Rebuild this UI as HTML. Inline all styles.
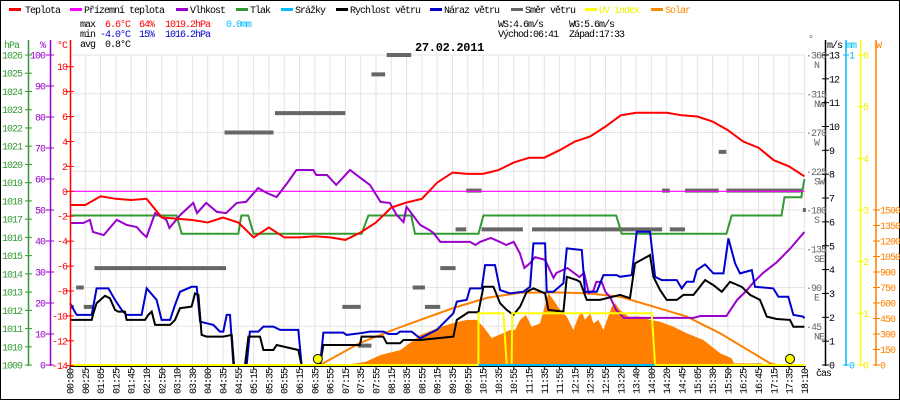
<!DOCTYPE html>
<html><head><meta charset="utf-8"><style>
html,body{margin:0;padding:0;background:#fff}
svg{display:block;font-family:"Liberation Mono",monospace}
text{font-size:10px;letter-spacing:-1px}
</style></head><body>
<svg id="c" width="900" height="400" viewBox="0 0 900 400" xmlns="http://www.w3.org/2000/svg">
<rect x="0.5" y="0.5" width="899" height="399" fill="#fff" stroke="#000"/>
<g>
<rect x="9" y="8" width="12" height="3" fill="#f00"/><text x="25" y="13" fill="#000">Teplota</text>
<rect x="70" y="8" width="12" height="3" fill="#f0f"/><text x="84" y="13">Přízemní teplota</text>
<rect x="176" y="8" width="12" height="3" fill="#90c"/><text x="190" y="13">Vlhkost</text>
<rect x="236" y="8" width="12" height="3" fill="#393"/><text x="250" y="13">Tlak</text>
<rect x="281" y="8" width="12" height="3" fill="#0bf"/><text x="295" y="13">Srážky</text>
<rect x="336" y="8" width="12" height="3" fill="#000"/><text x="350" y="13">Rychlost větru</text>
<rect x="430" y="8" width="12" height="3" fill="#00c"/><text x="444" y="13">Náraz větru</text>
<rect x="511" y="8" width="12" height="3" fill="#666"/><text x="525" y="13">Směr větru</text>
<rect x="585" y="8" width="12" height="3" fill="#ff0"/><text x="599" y="13" fill="#ee0">UV index</text>
<rect x="651" y="8" width="12" height="3" fill="#f80"/><text x="665" y="13" fill="#f80">Solar</text>
</g>
<g>
<text x="80" y="27">max</text><text x="105" y="27" fill="#f00">6.6°C</text><text x="139" y="27" fill="#f00">64%</text><text x="165" y="27" fill="#f00">1019.2hPa</text><text x="226" y="27" fill="#0bf">0.0mm</text>
<text x="80" y="37">min</text><text x="100" y="37" fill="#00c">-4.0°C</text><text x="139" y="37" fill="#00c">15%</text><text x="165" y="37" fill="#00c">1016.2hPa</text>
<text x="80" y="47">avg</text><text x="105" y="47">0.8°C</text>
<text x="498" y="27">WS:4.6m/s</text><text x="569" y="27">WG:5.6m/s</text>
<text x="498" y="37">Východ:06:41</text><text x="569" y="37">Západ:17:33</text>
</g>
<text x="415" y="51" style="font-size:12px;font-weight:bold;letter-spacing:-0.3px">27.02.2011</text>
<g id="grid"></g>
<g id="series"></g>
<g id="axes"></g>
</svg>
<script>
// ---- data ----
const timeLabels=["00:00","00:25","01:05","01:25","01:45","02:10","02:50","03:10","03:30","04:00","04:35","04:55","05:15","05:35","05:55","06:15","06:35","06:55","07:15","07:35","07:55","08:15","08:35","08:55","09:15","09:35","09:55","10:15","10:35","10:55","11:15","11:35","11:55","12:15","12:35","12:55","13:20","13:40","14:00","14:20","14:45","15:05","15:30","15:50","16:25","16:45","17:15","17:35","18:10"];
const tempVals=[-1.1,-1.1,-0.4,-0.6,-0.7,-0.6,-2.1,-2.2,-2.3,-2.5,-2.1,-2.5,-3.7,-2.9,-3.7,-3.7,-3.6,-3.7,-3.9,-3.3,-2.5,-1.3,-0.9,-0.6,0.7,1.5,1.4,1.4,1.7,2.3,2.7,2.7,3.3,4.0,4.4,5.2,6.1,6.3,6.3,6.3,6.1,6.0,5.6,4.9,4.0,3.5,2.5,2.0,1.2];
const feelT=[0,48];
const feelVals=[0,0];
const humT=[0,0.87,1.3,1.5,2.2,3.05,3.7,4.36,4.7,5.0,5.56,6.3,6.5,7.2,8.06,8.3,8.9,9.6,10.2,10.9,11.5,12.3,12.85,13.5,14.2,14.8,15.9,16.1,16.8,17.4,18.3,19.0,19.6,20.3,20.9,21.35,21.8,22.0,22.4,22.88,23.5,23.75,24.2,24.6,26.15,26.5,26.8,27.5,28.1,28.5,29.0,29.4,29.7,30.07,30.4,31.05,31.6,31.8,32.5,33.3,33.6,33.9,34.2,34.4,34.75,35.0,35.3,35.7,36.2,38.1,40.75,41.2,42.9,43.6,44.2,44.7,45.3,46.2,47.1,48];
const humVals=[45.8,45.8,46.8,42.9,41.9,46.8,45.2,44.5,42.6,41.3,49,46.8,44.2,48.4,52.3,49,52.3,49.4,49,52.3,52.6,57.1,55.5,54.2,58.7,62.9,62.9,61.3,61.3,58.1,62.9,60.3,58.1,52.6,52.3,48.4,46.1,51,48.4,45.2,43.5,42.6,39.7,39.7,39.7,38.7,39.7,41,39.7,38.7,39.7,36.1,31.3,32.9,34.8,33.9,28.1,29.7,31.3,28.4,29.7,23.2,23.9,26.8,26.8,23.5,21.9,17.7,15.2,15.2,15.2,15.8,15.8,21,23.9,26.8,29.7,33.2,37.7,42.9];
const presT=[0,6.97,7.3,11.0,11.2,11.65,12.0,19.06,19.5,22.3,22.55,26.7,27.02,35.7,36.06,42.9,43.25,46.5,46.7,47.8,48];
const presVals=[1017.2,1017.2,1016.2,1016.2,1017.2,1017.2,1016.2,1016.2,1017.2,1017.2,1016.2,1016.2,1017.2,1017.2,1016.2,1016.2,1017.2,1017.2,1018.2,1018.2,1019.2];
const windT=[0,1.42,1.53,1.74,2.29,2.61,2.94,3.16,3.59,3.7,4.9,5.12,5.34,5.56,6.54,6.86,7.19,7.95,8.17,8.39,8.6,8.93,10.02,10.57,10.72,11.44,11.66,12.42,12.64,13.29,13.51,14.92,15.14,16.34,16.56,18.95,19.06,20.48,20.7,21.57,21.79,22.88,25.06,25.28,26.04,26.69,27.02,27.67,28.11,28.54,28.98,29.42,29.85,30.29,31.05,31.27,32.25,32.47,33.12,33.34,33.77,34.64,35.08,35.95,36.6,36.93,37.91,38.13,38.57,39.0,39.66,40.09,40.75,41.51,42.05,42.6,43.14,43.9,44.45,45.1,45.54,46.19,47.06,47.28,48];
const windVals=[1.89,1.89,2.17,2.59,2.9,2.8,2.31,2.24,2.24,1.89,1.89,2.1,2.24,1.68,1.68,1.89,2.38,2.45,3.0,2.94,1.26,1.19,1.19,1.26,0,0,1.19,1.19,0.63,0.63,0.84,0.63,0,0,0.84,0.84,1.19,1.19,0.91,0.91,1.05,1.05,1.19,1.89,2.21,2.21,3.28,3.28,2.59,2.31,2.1,2.45,3.07,3.21,3.0,2.31,2.24,3.7,3.56,3.49,2.73,2.73,2.8,2.94,2.8,4.26,4.61,3.7,3.14,2.73,2.73,2.94,2.94,3.56,3.35,3.07,3.49,3.28,2.94,2.73,2.03,1.93,1.89,1.6,1.6];
const gustT=[0,0.44,1.42,1.74,2.51,2.94,3.38,3.7,4.68,5.01,5.66,5.99,6.54,6.86,7.19,7.95,8.28,8.5,8.93,9.37,9.8,10.02,10.24,10.46,10.68,11.55,11.76,12.31,12.64,13.29,13.73,14.92,15.14,16.34,16.56,17.86,18.08,18.95,19.61,20.48,20.81,21.35,21.57,22.33,22.88,23.97,25.06,25.28,25.93,26.15,26.91,27.13,27.78,28.11,28.76,29.63,30.07,30.29,31.05,31.16,31.6,32.25,32.47,33.45,33.66,34.43,34.86,35.73,35.95,36.71,37.04,37.91,38.24,38.68,39.66,39.98,40.31,40.75,40.96,41.51,42.05,42.71,43.03,43.47,43.79,44.56,44.77,45.97,46.3,46.95,47.28,47.93,48];
const gustVals=[2.59,2.1,2.1,3.21,3.21,2.73,2.31,2.1,2.1,3.21,2.73,1.89,1.89,2.52,3.07,3.28,3.28,1.82,1.75,1.68,1.4,1.4,2.1,2.1,0,0,1.4,1.4,1.61,1.61,1.47,1.47,0,0,1.36,1.36,1.26,1.33,1.4,1.4,1.3,1.3,1.4,1.4,1.12,1.47,2.17,2.66,2.73,3.21,3.21,4.19,4.19,3.14,3.0,3.07,3.28,5.1,5.1,3.07,3.07,3.43,4.89,4.82,3.07,3.07,3.77,3.77,3.7,3.77,5.59,5.59,3.7,3.56,3.56,3.21,3.49,3.49,3.98,4.22,3.84,3.84,5.31,4.26,3.84,3.98,3.28,3.21,2.86,2.86,2.1,2.03,1.96];
const dirStart=[0,0.4,0.9,1.6,10.1,13.4,17.8,18.8,19.7,20.7,22.4,23.2,24.2,25.2,25.9,26.9,30.2,38.7,39.2,40.2,42.4,42.9,47.9];
const dirEnd=[0.25,0.9,1.5,10.2,13.3,18.0,19.0,19.7,20.6,22.3,23.2,24.2,25.2,25.9,26.9,29.6,38.7,39.2,40.2,42.4,42.9,47.9,48.1];
const dirDeg=[67.5,90,67.5,112.5,270,292.5,67.5,22.5,337.5,360,90,67.5,112.5,157.5,202.5,157.5,157.5,202.5,157.5,202.5,247.5,202.5,180];
const solarT=[18.3,18.4,19.3,20.3,21.6,22.9,24.2,25.06,25.93,26.58,27.02,27.56,28.33,28.76,29.09,29.42,29.8,30.17,30.72,31.27,31.6,32.03,32.47,32.9,33.23,33.45,33.66,34.0,34.21,34.53,34.86,35.41,35.63,35.95,36.5,37.26,37.91,38.57,39.44,40.31,41.4,42.49,43.25,43.4,45.2,45.5];
const solarVals=[0,10,29,97,145,290,368,406,436,436,368,261,310,339,339,436,484,371,403,694,629,532,468,339,468,516,436,500,403,436,339,565,597,532,468,468,436,419,371,307,242,113,65,15,15,0];
const solarMaxT=[16.34,18.95,21.1,22.88,25.06,27.24,29.42,31.6,33.77,35.95,38.13,40.31,42.49,44.67,45.76,46.2];
const solarMaxVals=[0,213,339,436,552,649,700,703,694,661,565,468,307,113,16,0];
const uvT=[0,26.69,26.7,28.33,28.54,28.87,28.9,38.02,38.24,48];
const uvVals=[0,0,1.0,1.0,0,0,1.0,1.0,0,0];
const rainT=[26.7,38.2];
const rainVals=[0,0];
const sunEvents=[16.2,47.06];
// ---- scales ----
const X=i=>70+i*15.3;
const yT=t=>191.3-t*12.46;
const yH=h=>365-h*3.1;
const yP=p=>55+(1026-p)*18.24;
const yV=v=>365-v*23.85;
const yD=d=>365-d*310/360;
const yW=w=>365-w*310/3000;
const yU=u=>365-u*310/6;
const yR=r=>365-r*310;
const NS="http://www.w3.org/2000/svg";
function mk(tag,attrs,parent){const e=document.createElementNS(NS,tag);for(const k in attrs)e.setAttribute(k,attrs[k]);parent.appendChild(e);return e;}
const grid=document.getElementById('grid'),ser=document.getElementById('series'),ax=document.getElementById('axes');
// grid
for(let i=0;i<timeLabels.length;i++){
  const l=mk('line',{x1:X(i),x2:X(i),y1:55,y2:365,stroke:'#e6e2e2','stroke-width':1},grid);
  
  
}
for(let k=0;k<=7;k++){
  const l=mk('line',{x1:70,x2:805,y1:55+k*38.75,y2:55+k*38.75,stroke:'#e6e2e2','stroke-width':1},grid);
  
  
}
function pts(ts,vs,fy){return ts.map((t,i)=>X(t).toFixed(1)+','+fy(vs[i]).toFixed(1)).join(' ');}
// solar fill
const sf=mk('polygon',{points:X(solarT[0])+',365 '+pts(solarT,solarVals,yW)+' '+X(solarT[solarT.length-1])+',365',fill:'#ff8000'},ser);


const sm=mk('polyline',{points:pts(solarMaxT,solarMaxVals,yW),fill:'none',stroke:'#ff8000','stroke-width':2},ser);


// direction
for(let i=0;i<dirDeg.length;i++){
  const r=mk('rect',{x:X(dirStart[i]),y:yD(dirDeg[i])-2,width:Math.max(3,X(dirEnd[i])-X(dirStart[i])),height:4,fill:'#666'},ser);
  
  
}
const pr=mk('polyline',{points:pts(presT,presVals,yP),fill:'none',stroke:'#339933','stroke-width':2},ser);


const fl=mk('polyline',{points:pts(feelT,feelVals,yT),fill:'none',stroke:'#f0f','stroke-width':1.2},ser);


const hm=mk('polyline',{points:pts(humT,humVals,yH),fill:'none',stroke:'#9900cc','stroke-width':2},ser);


const tp=mk('polyline',{points:pts(tempVals.map((v,i)=>i),tempVals,yT),fill:'none',stroke:'#f00','stroke-width':2},ser);


const gu=mk('polyline',{points:pts(gustT,gustVals,yV),fill:'none',stroke:'#0000cc','stroke-width':2},ser);


const ws=mk('polyline',{points:pts(windT,windVals,yV),fill:'none',stroke:'#000','stroke-width':2},ser);


const uv=mk('polyline',{points:pts(uvT,uvVals,yU),fill:'none',stroke:'#ff0','stroke-width':2},ser);


const rn=mk('polyline',{points:pts(rainT,rainVals,yR),fill:'none',stroke:'#00bbff','stroke-width':2},ser);


for(const s of sunEvents){
  const c=mk('circle',{cx:X(s),cy:359,r:4.5,fill:'#ff0',stroke:'#000','stroke-width':1},ser);
  
  
}
// x axis
const xa=mk('line',{x1:70,x2:806,y1:366.5,y2:366.5,stroke:'#000','stroke-width':1},ax);


timeLabels.forEach((lab,i)=>{
  mk('line',{x1:X(i),x2:X(i),y1:366,y2:369,stroke:'#000'},ax);
  const t=mk('text',{x:0,y:0,transform:`translate(${X(i)+3.5},369) rotate(-90)`,'text-anchor':'end'},ax);
  t.textContent=lab;
  
  
});
const cas=mk('text',{x:816,y:376},ax);cas.textContent='čas';


function vaxis(x,col,name){const l=mk('line',{x1:x,x2:x,y1:40,y2:366,stroke:col,'stroke-width':1.5},ax);}
vaxis(28.5,'#339933','pressure-axis');vaxis(50.5,'#9900cc','humidity-axis');vaxis(70.5,'#f00','temperature-axis');
vaxis(825.5,'#000','wind-speed-axis');vaxis(846,'#00bbff','precip-axis');vaxis(860.5,'#ff0','uv-axis');vaxis(876,'#ff8000','solar-axis');
function lab(x,y,s,col,anchor,name){const t=mk('text',{x:x,y:y,fill:col,'text-anchor':anchor||'start'},ax);t.textContent=s;return t;}
lab(4,48,'hPa','#339933','start','pressure-axis-title');lab(40,48,'%','#9900cc','start','humidity-axis-title');lab(57,48,'°C','#f00','start','temperature-axis-title');
lab(808,42,'°','#666','start','direction-axis-title');lab(827,48,'m/s','#000','start','wind-axis-title');lab(846,48,'mm','#00bbff','start','precip-axis-title');lab(876,48,'W','#ff8000','start','solar-axis-title');
for(let p=1009;p<=1026;p++){const y=yP(p);mk('line',{x1:25,x2:32,y1:y,y2:y,stroke:'#339933'},ax);lab(2,y+3.5,String(p),'#339933','start','pressure-tick-label');}
for(let h=0;h<=100;h+=10){const y=yH(h);mk('line',{x1:46,x2:54,y1:y,y2:y,stroke:'#9900cc'},ax);lab(45,y+3.5,String(h),'#9900cc','end','humidity-tick-label');}
for(let t=-14;t<=10;t+=2){const y=yT(t);mk('line',{x1:66,x2:74,y1:y,y2:y,stroke:'#f00'},ax);lab(67,y+3.5,String(t),'#f00','end','temperature-tick-label');}
const dirNames=['','NE','E','SE','S','SW','W','NW','N'];
for(let k=1;k<=8;k++){const y=yD(k*45);lab(806,y+3.5,'·'+(k*45),'#666','start','direction-tick-label');lab(814,y+13,dirNames[k],'#666','start','direction-name-label');}
for(let v=0;v<=13;v++){const y=yV(v);mk('line',{x1:822,x2:829,y1:y,y2:y,stroke:'#000'},ax);lab(829,y+3.5,String(v),'#000','start','wind-tick-label');}
[0,1].forEach(r=>{const y=yR(r);mk('line',{x1:843,x2:849,y1:y,y2:y,stroke:'#00bbff'},ax);lab(849,y+3.5,String(r),'#00bbff','start','precip-tick-label');});
for(let u=0;u<=6;u++){const y=yU(u);mk('line',{x1:857,x2:864,y1:y,y2:y,stroke:'#ff0'},ax);lab(863,y+3.5,String(u),'#ee0','start','uv-tick-label');}
for(let w=0;w<=1500;w+=150){const y=yW(w);mk('line',{x1:873,x2:880,y1:y,y2:y,stroke:'#ff8000'},ax);lab(880,y+3.5,String(w),'#ff8000','start','solar-tick-label');}
</script>
</body></html>
